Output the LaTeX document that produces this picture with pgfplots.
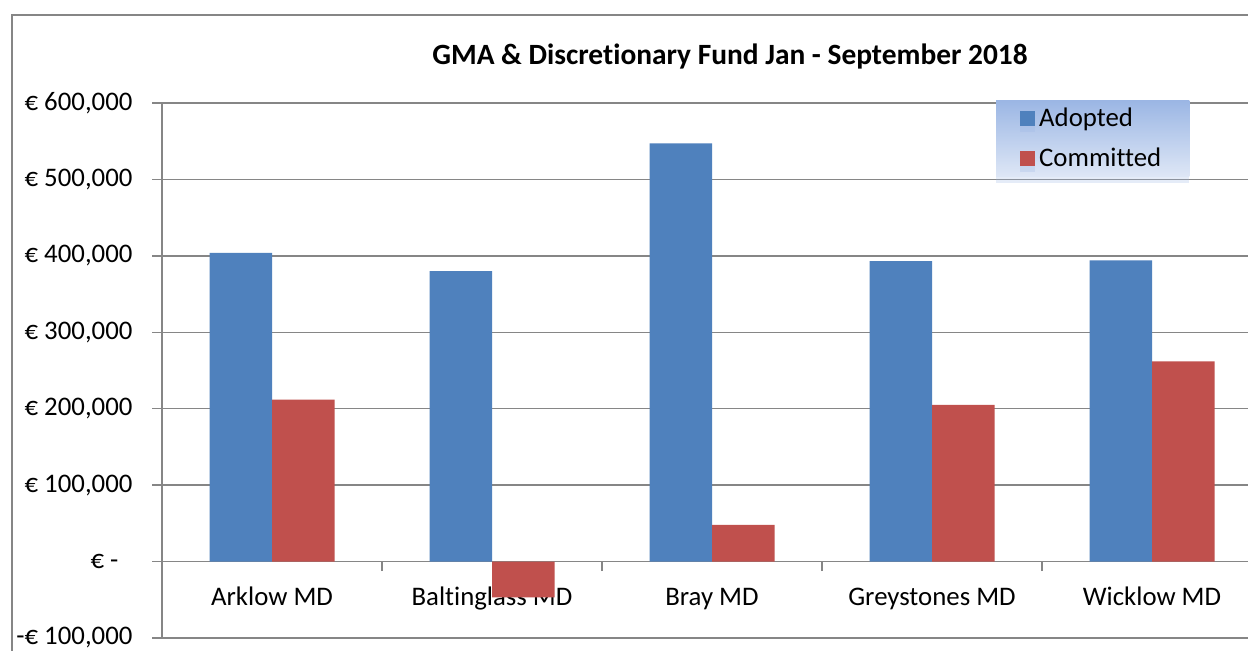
\documentclass[border=0pt]{standalone}
\usepackage{fontspec}
\setmainfont{Carlito}[Ligatures={NoCommon}]
\usepackage{pgfplots}
\pgfplotsset{compat=1.18}
\usetikzlibrary{shadows}
\definecolor{adopted}{RGB}{79,129,189}
\definecolor{committed}{RGB}{192,80,77}
\definecolor{gridc}{RGB}{134,134,134}
\definecolor{framec}{RGB}{134,134,134}
\definecolor{legtop}{RGB}{155,182,228}
\definecolor{legbot}{RGB}{222,231,246}
\begin{document}
\begin{tikzpicture}
\path[use as bounding box, clip] (0,0) rectangle (624pt,325.5pt);
\fill[white] (0,0) rectangle (624pt,325.5pt);
\draw[framec, line width=1pt] (6pt,-2pt) -- (6pt,318pt) -- (630pt,318pt);
\begin{axis}[
  at={(81pt,6.5pt)}, anchor=south west,
  scale only axis, width=550pt, height=267.5pt,
  xmin=-0.5, xmax=4.5, ymin=-100000, ymax=600000,
  axis x line*=middle, axis y line*=left,
  axis line style={gridc, line width=0.75pt},
  ymajorgrids, grid style={gridc, line width=0.75pt},
  tick align=outside, major tick length=4.75pt,
  tick style={gridc, line width=0.75pt},
  scaled y ticks=false,
  ytick={-100000,0,100000,200000,300000,400000,500000,600000},
  yticklabels={{-€ 100,000},{€ -\hspace*{7pt}},{€ 100,000},{€ 200,000},{€ 300,000},{€ 400,000},{€ 500,000},{€ 600,000}},
  xtick={0.5,1.5,2.5,3.5}, xticklabels={},
  extra x ticks={0,1,2,3,4},
  extra x tick labels={Arklow MD,Baltinglass MD,Bray MD,Greystones MD,Wicklow MD},
  extra x tick style={major tick length=0pt, grid=none},
  ticklabel style={font=\fontsize{13.4}{16}\selectfont, text=black},
  xticklabel style={anchor=base, yshift=-22pt},
  yticklabel style={xshift=-6.5pt},
  title={GMA \& Discretionary Fund Jan - September 2018},
  title style={font=\bfseries\fontsize{14.7}{17}\selectfont, at={(0.5164,1)}, anchor=center, yshift=17pt},
  ybar=0pt, bar width=31.25pt,
  legend style={at={(0.758,1.0056)}, anchor=north west, draw=none,
    top color=legtop, bottom color=legbot,
    drop shadow={shadow xshift=0pt, shadow yshift=-3pt, opacity=0.25, fill=legtop},
    font=\fontsize{13.4}{16}\selectfont, inner xsep=12pt, inner ysep=1.5pt, row sep=5.5pt},
  legend cell align=left,
  legend image code/.code={\fill[#1] (0pt,-3.75pt) rectangle (7.5pt,3.75pt);},
]
\addplot[fill=adopted, draw=none] coordinates {(0,404000) (1,380000) (2,547000) (3,393000) (4,394000)};
\addplot[fill=committed, draw=none] coordinates {(0,212000) (1,-47000) (2,48000) (3,205000) (4,262000)};
\legend{Adopted,Committed}
\end{axis}
\end{tikzpicture}
\end{document}
